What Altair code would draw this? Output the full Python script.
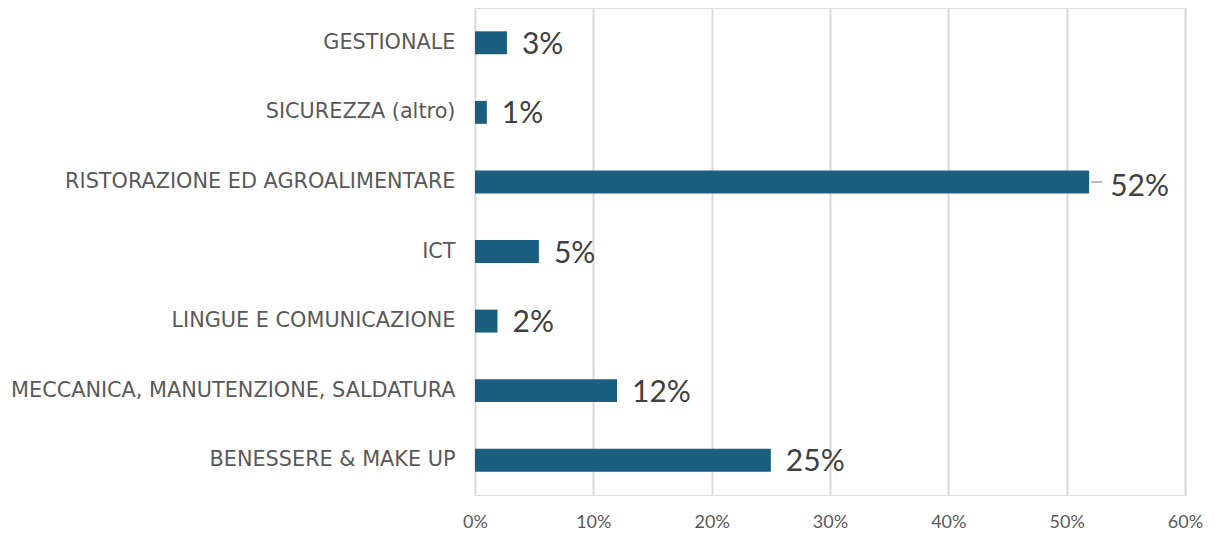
import altair as alt
import pandas as pd

categories = [
    "GESTIONALE",
    "SICUREZZA (altro)",
    "RISTORAZIONE ED AGROALIMENTARE",
    "ICT",
    "LINGUE E COMUNICAZIONE",
    "MECCANICA, MANUTENZIONE, SALDATURA",
    "BENESSERE & MAKE UP",
]
values = [0.027, 0.010, 0.519, 0.054, 0.019, 0.120, 0.250]
x_ticks = [0, 0.1, 0.2, 0.3, 0.4, 0.5, 0.6]
moved_label = ["RISTORAZIONE ED AGROALIMENTARE"]

df = pd.DataFrame({"cat": categories, "val": values})
df["moved"] = df["cat"].isin(moved_label)

FONT = "Lato"
YFONT = "DejaVu Sans"
BAR = "#1a5e80"

y_enc = alt.Y(
    "cat:N",
    sort=categories,
    title=None,
    scale=alt.Scale(paddingInner=0.67, paddingOuter=0.335),
    axis=alt.Axis(
        labelFont=YFONT, labelFontSize=20.8, labelColor="#595959",
        labelPadding=20, labelLimit=600, ticks=False, domain=False,
    ),
)
x_enc = alt.X(
    "val:Q",
    title=None,
    scale=alt.Scale(domain=[0, 0.6]),
    axis=alt.Axis(
        values=x_ticks, format=".0%", labelFont=FONT, labelFontSize=18,
        labelColor="#595959", labelPadding=18, labelFlush=False, ticks=False, domain=False,
        grid=True, gridColor="#d9d9d9", gridWidth=2,
    ),
)

base = alt.Chart(df)

bars = base.mark_bar(color=BAR).encode(x=x_enc, y=y_enc)

labels = base.transform_filter("!datum.moved").mark_text(
    align="left", baseline="middle", dx=15, dy=2,
    font=FONT, fontSize=30, color="#404040",
).encode(x="val:Q", y=alt.Y("cat:N", sort=categories), text=alt.Text("val:Q", format=".0%"))

moved = base.transform_filter("datum.moved").mark_text(
    align="left", baseline="middle", dx=21, dy=5,
    font=FONT, fontSize=30, color="#404040",
).encode(x="val:Q", y=alt.Y("cat:N", sort=categories), text=alt.Text("val:Q", format=".0%"))

leader = base.transform_filter("datum.moved").mark_rule(
    color="#a6a6a6", strokeWidth=1.5, xOffset=2, x2Offset=13,
).encode(x="val:Q", x2="val:Q", y=alt.Y("cat:N", sort=categories))

chart = alt.layer(bars, leader, labels, moved).properties(
    width=710, height=487,
    autosize=alt.AutoSizeParams(type="none"),
    padding={"left": 467, "top": 0, "right": 20, "bottom": 40},
).configure_view(stroke=None).configure(background="white")

chart.save("out.html", embed_options={"renderer": "svg", "actions": False})
